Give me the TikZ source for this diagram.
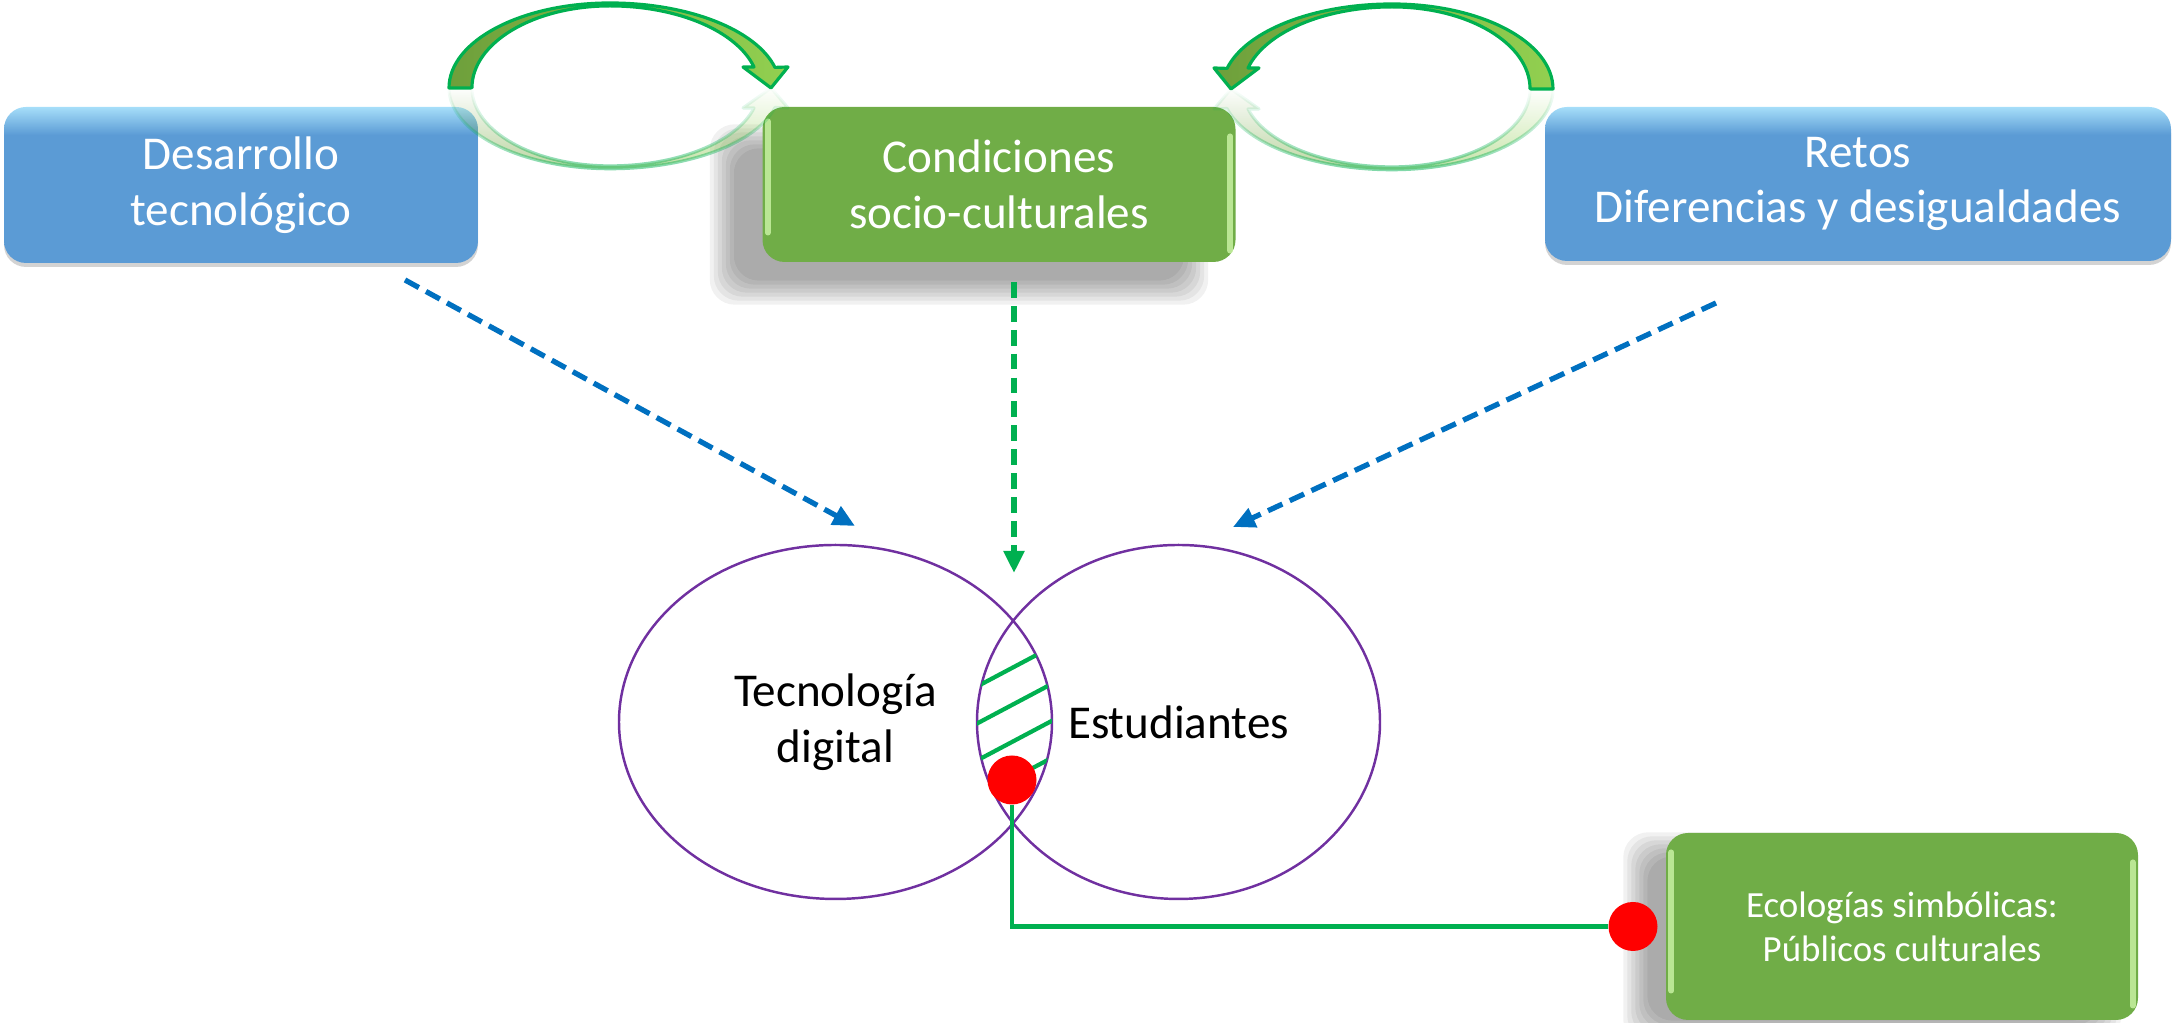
\documentclass[tikz,border=0pt]{standalone}
\usepackage{fontspec}
\setmainfont{Carlito}
\usetikzlibrary{arrows.meta,shapes.geometric,shadows,fadings,backgrounds}

\definecolor{boxblue}{HTML}{5B9BD5}
\definecolor{boxbluetop}{HTML}{A6DEF9}
\definecolor{boxgreen}{HTML}{70AD47}
\definecolor{glossgreen}{HTML}{CDF5A8}
\definecolor{arrowdark}{HTML}{6E9F3B}
\definecolor{arrowlight}{HTML}{92D050}
\definecolor{linegreen}{HTML}{00B050}
\definecolor{dashblue}{HTML}{0070C0}
\definecolor{vennpurple}{HTML}{7030A0}

\pgfdeclareverticalshading{bluegloss}{100bp}{color(0bp)=(boxblue); color(66bp)=(boxblue); color(75bp)=(boxbluetop); color(100bp)=(boxbluetop)}

\tikzset{
  bigtext/.style={font=\fontsize{13.4}{15.9}\selectfont},
  bluebox/.style={bigtext, rounded corners=0.22cm, shade, shading=bluegloss, text=white, align=center, inner sep=0pt,
    drop shadow={shadow xshift=0cm, shadow yshift=-0.04cm, opacity=0.35}},
  greenbox/.style={rounded corners=0.22cm, fill=boxgreen, text=white, align=center, inner sep=0pt},
  shadowlayer/.style={fill=black, opacity=0.055, rounded corners=0.25cm},
  gloss/.style={draw=glossgreen, line width=1.6pt, opacity=0.8, line cap=round},
  venn/.style={bigtext, ellipse, draw=vennpurple, line width=0.7pt, inner sep=0pt, align=center},
  reddot/.style={circle, fill=red, minimum size=0.49cm, inner sep=0pt},
  dasharrow/.style={line width=1.5pt, dash pattern=on 4.5pt off 2.3pt, -{Triangle[length=0.22cm,width=0.2cm]}},
  hatch/.style={draw=linegreen, line width=1.2pt},
  link/.style={draw=linegreen, line width=1.3pt},
  curvearrow/.style={draw=linegreen, line width=0.9pt, left color=arrowdark, right color=arrowlight, line join=round}
}

% curved green arrow, centred on the middle of its foot line
\newcommand{\greenloop}[1]{%
  \path[curvearrow,#1] (-1.61,0) arc[start angle=180, end angle=90, x radius=1.61, y radius=0.85]
    arc[start angle=90, end angle=14, x radius=1.70, y radius=0.85]
    -- (1.78,0.21) -- (1.61,0) -- (1.33,0.21) -- (1.44,0.21)
    arc[start angle=14.8, end angle=90, x radius=1.49, y radius=0.82]
    arc[start angle=90, end angle=180, x radius=1.38, y radius=0.82] -- cycle;}

% soft shadow behind a node: node, x offset, y offset (cm)
\newcommand{\blurshadow}[3]{%
  \begin{scope}[on background layer]
    \foreach \e in {0,0.04,...,0.24}
      \fill[shadowlayer] ([xshift=#2cm+0.12cm-\e cm, yshift=#3cm+0.12cm-\e cm]#1.south west)
        rectangle ([xshift=#2cm-0.12cm+\e cm, yshift=#3cm-0.12cm+\e cm]#1.north east);
  \end{scope}}

\begin{document}
\begin{tikzpicture}
\useasboundingbox (0,0) rectangle (21.75,10.23);

% top row
\node[bluebox, minimum width=4.74cm, minimum height=1.56cm] (des) at (2.41,8.38) {Desarrollo\\tecnológico};
\node[greenbox, bigtext, minimum width=4.73cm, minimum height=1.55cm] (cond) at (9.99,8.385) {Condiciones\\socio-culturales};
\node[bluebox, minimum width=6.26cm, minimum height=1.54cm] (retos) at (18.58,8.39) {Retos\\Diferencias y desigualdades};
\blurshadow{cond}{-0.4}{-0.3}
\draw[gloss] ([xshift=0.06cm,yshift=-0.15cm]cond.north west) -- ([xshift=0.06cm,yshift=0.3cm]cond.south west);
\draw[gloss] ([xshift=-0.06cm,yshift=-0.3cm]cond.north east) -- ([xshift=-0.06cm,yshift=0.12cm]cond.south east);

% loops between the boxes
\begin{scope}[shift={(6.10,9.35)}]
  \greenloop{}
\end{scope}
\begin{scope}[shift={(6.10,9.35)}, yscale=-0.95]
  \greenloop{opacity=0.5, path fading=north}
\end{scope}
\begin{scope}[shift={(13.92,9.34)}, xscale=-1]
  \greenloop{}
\end{scope}
\begin{scope}[shift={(13.92,9.34)}, xscale=-1, yscale=-0.95]
  \greenloop{opacity=0.5, path fading=north}
\end{scope}

% venn
\node[venn, minimum width=4.33cm, minimum height=3.54cm] (tec) at (8.355,3.01) {Tecnología\\digital};
\node[venn, minimum width=4.03cm, minimum height=3.54cm] (est) at (11.785,3.01) {Estudiantes};
\begin{scope}
  \clip (tec.center) ellipse [x radius=2.165cm, y radius=1.77cm];
  \clip (est.center) ellipse [x radius=2.015cm, y radius=1.77cm];
  \foreach \y in {3.55,3.18,2.81,2.44}
    \draw[hatch] (9.12,\y-0.53) -- (11.12,\y+0.53);
\end{scope}

% dashed arrows
\coordinate (desout) at (4.05,7.43);
\coordinate (desin) at (8.55,4.97);
\coordinate (condout) at (10.14,7.41);
\coordinate (condin) at (10.14,4.50);
\coordinate (retosout) at (17.16,7.20);
\coordinate (retosin) at (12.33,4.96);
\draw[dasharrow, dashblue] (desout) -- (desin);
\draw[dasharrow, linegreen] (condout) -- (condin);
\draw[dasharrow, dashblue] (retosout) -- (retosin);

% bottom right
\node[greenbox, font=\fontsize{10.5}{12.6}\selectfont, minimum width=4.72cm, minimum height=1.87cm] (eco) at (19.02,0.965) {Ecologías simbólicas:\\Públicos culturales};
\blurshadow{eco}{-0.3}{-0.12}
\draw[gloss] ([xshift=0.06cm,yshift=-0.2cm]eco.north west) -- ([xshift=0.06cm,yshift=0.3cm]eco.south west);
\draw[gloss] ([xshift=-0.06cm,yshift=-0.3cm]eco.north east) -- ([xshift=-0.06cm,yshift=0.15cm]eco.south east);
\node[reddot] (dotA) at (10.12,2.43) {};
\node[reddot] (dotB) at (16.33,0.965) {};
\draw[link] (dotA) |- (dotB);
\end{tikzpicture}
\end{document}
